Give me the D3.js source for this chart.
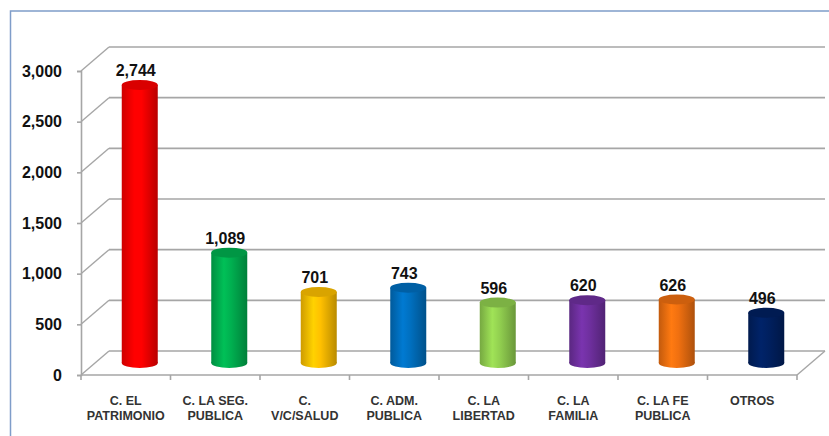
<!DOCTYPE html>
<html>
<head>
<meta charset="utf-8">
<script src="https://cdn.jsdelivr.net/npm/d3@7"></script>
<style>
  html, body { margin: 0; padding: 0; background: #fff; }
  svg { display: block; }
</style>
</head>
<body>
<svg id="chart" width="829" height="436"></svg>
<script>
const categories = [
  ["C. EL", "PATRIMONIO"],
  ["C. LA SEG.", "PUBLICA"],
  ["C.", "V/C/SALUD"],
  ["C. ADM.", "PUBLICA"],
  ["C. LA", "LIBERTAD"],
  ["C. LA", "FAMILIA"],
  ["C. LA FE", "PUBLICA"],
  ["OTROS"]
];
const values = [2744, 1089, 701, 743, 596, 620, 626, 496];
const barColors = ["#ff0000", "#00b050", "#ffc000", "#0070c0", "#92d050", "#7030a0", "#f07010", "#002060"];
const yTicks = [0, 500, 1000, 1500, 2000, 2500, 3000];

const svg = d3.select("#chart");
const W = 829, H = 436;

// frame
svg.append("rect").attr("x", 10.5).attr("y", 11).attr("width", 830).attr("height", 440)
  .attr("fill", "none").attr("stroke", "#7f9dc9").attr("stroke-width", 1.5);

const x0 = 81, x1 = 797;
const dx = 28, dy = -24;
const idx = values.map((d, i) => i);
const x = d3.scaleBand().domain(idx).range([x0, x1]).padding(0);
const y = d3.scaleLinear().domain([0, 3000]).range([375, 71]);

const gridColor = "#a6a6a6";
const g = svg.append("g");

// back wall gridlines and left wall diagonals
yTicks.forEach(t => {
  g.append("line").attr("x1", x0 + dx).attr("x2", x1 + dx)
    .attr("y1", y(t) + dy).attr("y2", y(t) + dy)
    .attr("stroke", gridColor).attr("stroke-width", 1.6);
  g.append("line").attr("x1", x0).attr("x2", x0 + dx)
    .attr("y1", y(t)).attr("y2", y(t) + dy)
    .attr("stroke", gridColor).attr("stroke-width", 1.4);
});
// floor front edge & right diagonal
g.append("line").attr("x1", x0).attr("x2", x1).attr("y1", y(0)).attr("y2", y(0))
  .attr("stroke", gridColor).attr("stroke-width", 1.6);
g.append("line").attr("x1", x1).attr("x2", x1 + dx).attr("y1", y(0)).attr("y2", y(0) + dy)
  .attr("stroke", gridColor).attr("stroke-width", 1.4);

// y axis
const yAxis = d3.axisLeft(y).tickValues(yTicks).tickSize(4).tickPadding(15).tickFormat(d3.format(","));
const ya = svg.append("g").attr("transform", `translate(${x0},0)`).call(yAxis);
ya.select(".domain").attr("stroke", gridColor).attr("stroke-width", 1.6);
ya.selectAll(".tick line").attr("stroke", gridColor).attr("stroke-width", 1.6);
ya.selectAll(".tick text")
  .attr("font-family", "Liberation Sans, Arial, sans-serif")
  .attr("font-weight", "bold").attr("font-size", 16).attr("fill", "#111");

// x axis ticks at band boundaries
const bounds = idx.map(i => x(i)).concat([x1]);
bounds.forEach(b => {
  g.append("line").attr("x1", b).attr("x2", b).attr("y1", y(0)).attr("y2", y(0) + 5)
    .attr("stroke", gridColor).attr("stroke-width", 1.6);
});

// x labels
const xl = svg.append("g");
categories.forEach((lines, i) => {
  const t = xl.append("text")
    .attr("x", x(i) + x.bandwidth() / 2)
    .attr("y", 405)
    .attr("text-anchor", "middle")
    .attr("font-family", "Liberation Sans, Arial, sans-serif")
    .attr("font-weight", "bold").attr("font-size", 12.5).attr("fill", "#333");
  lines.forEach((ln, j) => {
    t.append("tspan").attr("x", x(i) + x.bandwidth() / 2).attr("dy", j === 0 ? 0 : 15).text(ln);
  });
});

// gradients
const defs = svg.append("defs");
barColors.forEach((c, i) => {
  const base = d3.color(c);
  const grad = defs.append("linearGradient").attr("id", "cyl" + i)
    .attr("x1", "0%").attr("x2", "100%").attr("y1", "0%").attr("y2", "0%");
  grad.append("stop").attr("offset", "0%").attr("stop-color", base.darker(0.6));
  grad.append("stop").attr("offset", "35%").attr("stop-color", base.brighter(0.25));
  grad.append("stop").attr("offset", "55%").attr("stop-color", base);
  grad.append("stop").attr("offset", "100%").attr("stop-color", base.darker(0.9));
});

// cylinders
const bw = 36, ry = 5;
const bars = svg.append("g");
values.forEach((v, i) => {
  const cx = x(i) + x.bandwidth() / 2 + dx / 2;
  const yTop = y(v) + dy / 2;
  const yBot = y(0) + dy / 2;
  const c = d3.color(barColors[i]);
  bars.append("ellipse").attr("cx", cx).attr("cy", yBot).attr("rx", bw / 2).attr("ry", ry)
    .attr("fill", `url(#cyl${i})`);
  bars.append("rect").attr("x", cx - bw / 2).attr("y", yTop).attr("width", bw).attr("height", yBot - yTop)
    .attr("fill", `url(#cyl${i})`);
  bars.append("ellipse").attr("cx", cx).attr("cy", yTop).attr("rx", bw / 2).attr("ry", ry)
    .attr("fill", c.darker(0.45));
  bars.append("text")
    .attr("x", cx - 4).attr("y", yTop - 9)
    .attr("text-anchor", "middle")
    .attr("font-family", "Liberation Sans, Arial, sans-serif")
    .attr("font-weight", "bold").attr("font-size", 16).attr("fill", "#111")
    .text(d3.format(",")(v));
});
</script>
</body>
</html>
